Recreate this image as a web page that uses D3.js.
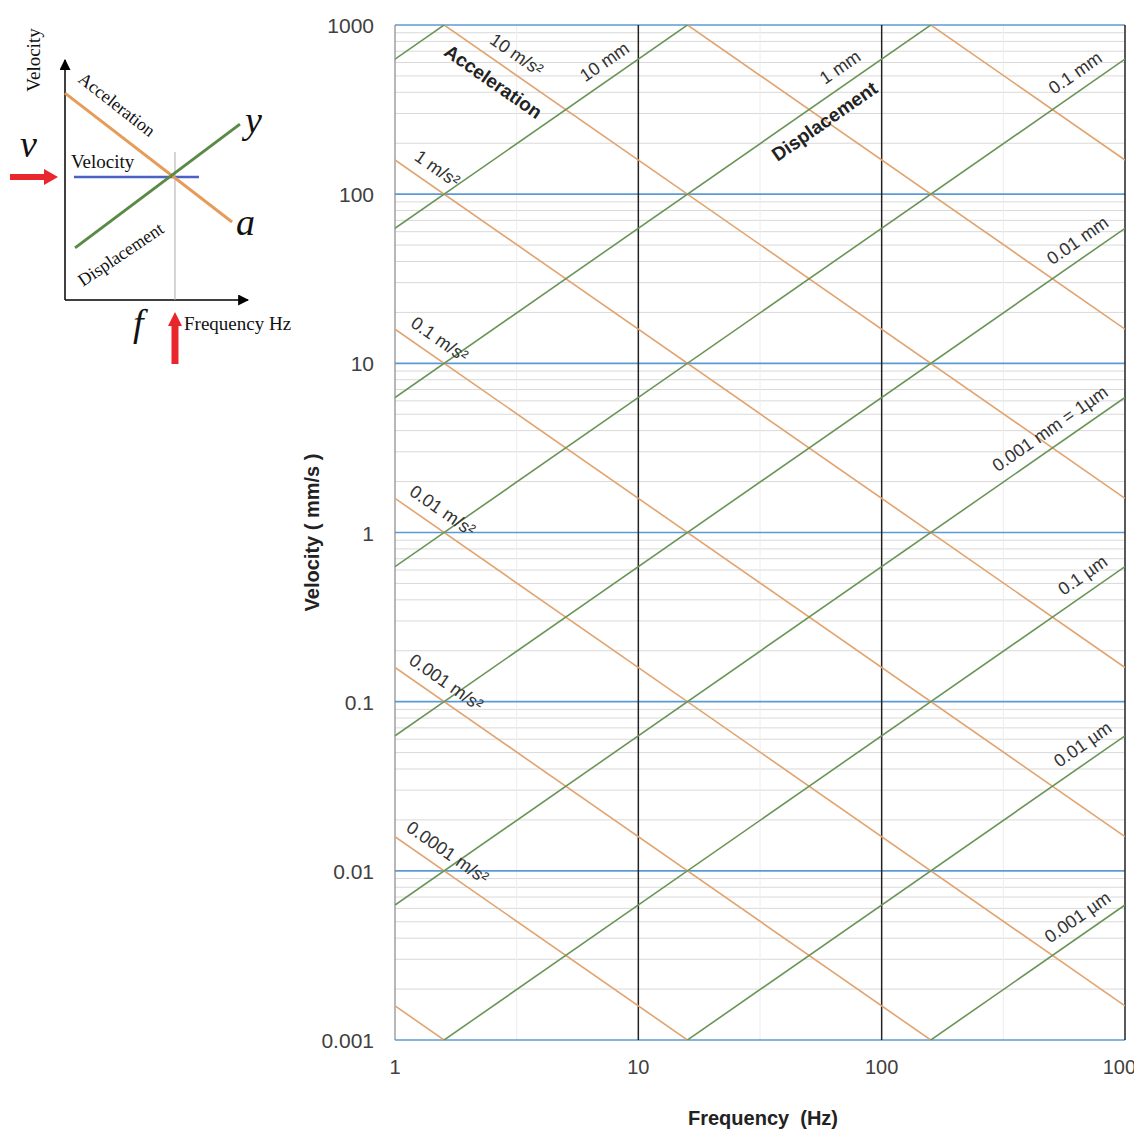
<!DOCTYPE html>
<html>
<head>
<meta charset="utf-8">
<script src="https://cdn.jsdelivr.net/npm/d3@7"></script>
<style>
  body { margin: 0; background: #fff; }
  svg { display: block; }
  .tick-label { font-family: "Liberation Sans", Arial, sans-serif; fill: #404040; }
  .axis-title { font-family: "Liberation Sans", Arial, sans-serif; font-size: 20px; font-weight: bold; fill: #222; }
  .line-label { font-family: "Liberation Sans", Arial, sans-serif; font-size: 18px; fill: #333; }
  .group-label { font-family: "Liberation Sans", Arial, sans-serif; font-size: 19px; font-weight: bold; fill: #222; }
  .inset-text { font-family: "Liberation Serif", "Times New Roman", serif; fill: #111; }
</style>
</head>
<body>
<div id="chart"></div>
<script>
// ---- data ----
const freqTicks = [1, 10, 100, 1000];
const velTicks = [0.001, 0.01, 0.1, 1, 10, 100, 1000];
const velTickLabels = ['0.001', '0.01', '0.1', '1', '10', '100', '1000'];
const accelLevels = [1e-5, 1e-4, 1e-3, 0.01, 0.1, 1, 10, 100, 1000];        // m/s2
const dispLevels = [1e-6, 1e-5, 1e-4, 1e-3, 0.01, 0.1, 1, 10, 100];          // mm

// labels: line level, text, frequency where the label sits
const accelLabels = [
  { level: 10, text: '10 m/s²', f: 2.88 },
  { level: 1, text: '1 m/s²', f: 1.36 },
  { level: 0.1, text: '0.1 m/s²', f: 1.39 },
  { level: 0.01, text: '0.01 m/s²', f: 1.43 },
  { level: 0.001, text: '0.001 m/s²', f: 1.48 },
  { level: 0.0001, text: '0.0001 m/s²', f: 1.50 }
];
const dispLabels = [
  { level: 10, text: '10 mm', f: 7.96 },
  { level: 1, text: '1 mm', f: 74 },
  { level: 0.1, text: '0.1 mm', f: 685 },
  { level: 0.01, text: '0.01 mm', f: 700 },
  { level: 0.001, text: '0.001 mm = 1µm', f: 540 },
  { level: 1e-4, text: '0.1 µm', f: 735 },
  { level: 1e-5, text: '0.01 µm', f: 735 },
  { level: 1e-6, text: '0.001 µm', f: 700 }
];
const groupLabels = [
  { kind: 'accel', level: 10, text: 'Acceleration', f: 2.80 },
  { kind: 'disp', level: 1, text: 'Displacement', f: 52.7 }
];

// velocity (mm/s) on each kind of line
const accelVel = (a, f) => a * 1000 / (2 * Math.PI * f);
const dispVel = (d, f) => 2 * Math.PI * f * d;

const W = 1134, H = 1131;
const svg = d3.select('#chart').append('svg').attr('width', W).attr('height', H);

const x = d3.scaleLog().domain([1, 1000]).range([395, 1125]);
const y = d3.scaleLog().domain([0.001, 1000]).range([1040, 25]);

svg.append('defs').append('clipPath').attr('id', 'plotClip')
  .append('rect')
  .attr('x', x(1)).attr('y', y(1000))
  .attr('width', x(1000) - x(1)).attr('height', y(0.001) - y(1000));

const grid = svg.append('g');

// minor horizontal lines
const minorV = [];
velTicks.slice(0, -1).forEach(d => { for (let k = 2; k <= 9; k++) minorV.push(d * k); });
grid.selectAll('.minor-h').data(minorV).enter().append('line')
  .attr('class', 'minor-h')
  .attr('x1', x(1)).attr('x2', x(1000))
  .attr('y1', d => y(d)).attr('y2', d => y(d))
  .attr('stroke', '#d9d9d9').attr('stroke-width', 1);

// faint vertical half-decade lines
const halfF = [1, 10, 100].map(d => d * Math.sqrt(10));
grid.selectAll('.half-v').data(halfF).enter().append('line')
  .attr('x1', d => x(d)).attr('x2', d => x(d))
  .attr('y1', y(1000)).attr('y2', y(0.001))
  .attr('stroke', '#ececec').attr('stroke-width', 1);

// major horizontal lines
grid.selectAll('.major-h').data(velTicks).enter().append('line')
  .attr('x1', x(1)).attr('x2', x(1000))
  .attr('y1', d => y(d)).attr('y2', d => y(d))
  .attr('stroke', '#5b9bd5').attr('stroke-width', 1.6);

// vertical decade lines
grid.selectAll('.major-v').data(freqTicks).enter().append('line')
  .attr('x1', d => x(d)).attr('x2', d => x(d))
  .attr('y1', y(1000)).attr('y2', y(0.001))
  .attr('stroke', d => d === 1 ? '#888' : '#222')
  .attr('stroke-width', d => d === 1 ? 1.2 : 1.5);

// acceleration and displacement lines
const plot = svg.append('g').attr('clip-path', 'url(#plotClip)');
const lineGen = d3.line().x(d => x(d[0])).y(d => y(d[1]));

plot.selectAll('.accel').data(accelLevels).enter().append('path')
  .attr('d', a => lineGen([[1, accelVel(a, 1)], [1000, accelVel(a, 1000)]]))
  .attr('fill', 'none').attr('stroke', '#e2a36e').attr('stroke-width', 1.6);

plot.selectAll('.disp').data(dispLevels).enter().append('path')
  .attr('d', dd => lineGen([[1, dispVel(dd, 1)], [1000, dispVel(dd, 1000)]]))
  .attr('fill', 'none').attr('stroke', '#6a9456').attr('stroke-width', 1.6);

// line slope angle in screen space
const accAngle = Math.atan2(y(0.1) - y(1), x(10) - x(1)) * 180 / Math.PI;
const dispAngle = -accAngle;

const labels = svg.append('g');
labels.selectAll('.acc-lab').data(accelLabels).enter().append('text')
  .attr('class', 'line-label')
  .attr('transform', d => `translate(${x(d.f)},${y(accelVel(d.level, d.f))}) rotate(${accAngle})`)
  .attr('text-anchor', 'middle').attr('y', -11)
  .text(d => d.text);

labels.selectAll('.disp-lab').data(dispLabels).enter().append('text')
  .attr('class', 'line-label')
  .attr('transform', d => `translate(${x(d.f)},${y(dispVel(d.level, d.f))}) rotate(${dispAngle})`)
  .attr('text-anchor', 'middle').attr('y', -11)
  .text(d => d.text);

labels.selectAll('.grp-lab').data(groupLabels).enter().append('text')
  .attr('class', 'group-label')
  .attr('transform', d => {
    const v = d.kind === 'accel' ? accelVel(d.level, d.f) : dispVel(d.level, d.f);
    const ang = d.kind === 'accel' ? accAngle : dispAngle;
    return `translate(${x(d.f)},${y(v)}) rotate(${ang})`;
  })
  .attr('text-anchor', 'middle').attr('y', 25)
  .text(d => d.text);

// tick labels
svg.selectAll('.ylab').data(velTicks).enter().append('text')
  .attr('class', 'tick-label')
  .style('font-size', '21px')
  .attr('x', 374).attr('y', d => y(d) + 8)
  .attr('text-anchor', 'end')
  .text((d, i) => velTickLabels[i]);

svg.selectAll('.xlab').data(freqTicks).enter().append('text')
  .attr('class', 'tick-label')
  .style('font-size', '20px')
  .attr('x', d => x(d)).attr('y', 1074)
  .attr('text-anchor', 'middle')
  .text(d => d);

svg.append('text').attr('class', 'axis-title')
  .attr('transform', `translate(319,${(y(1000) + y(0.001)) / 2}) rotate(-90)`)
  .attr('text-anchor', 'middle')
  .attr('xml:space', 'preserve')
  .text('Velocity ( mm/s )');

svg.append('text').attr('class', 'axis-title')
  .attr('x', 763).attr('y', 1125)
  .attr('text-anchor', 'middle')
  .attr('xml:space', 'preserve')
  .text('Frequency  (Hz)');

// ---- inset schematic ----
const ix = d3.scaleLinear().domain([0, 10]).range([65, 248]);
const iy = d3.scaleLinear().domain([0, 10]).range([300, 60]);
const inset = svg.append('g');

const defs = svg.select('defs');
defs.append('marker').attr('id', 'arrowBlack')
  .attr('viewBox', '0 0 10 10').attr('refX', 9).attr('refY', 5)
  .attr('markerWidth', 11).attr('markerHeight', 11).attr('markerUnits', 'userSpaceOnUse')
  .attr('orient', 'auto')
  .append('path').attr('d', 'M0,0 L10,5 L0,10 Z').attr('fill', '#000');

// axes
inset.append('line').attr('x1', ix(0)).attr('y1', iy(0)).attr('x2', ix(0)).attr('y2', iy(10))
  .attr('stroke', '#000').attr('stroke-width', 1.5).attr('marker-end', 'url(#arrowBlack)');
inset.append('line').attr('x1', ix(0)).attr('y1', iy(0)).attr('x2', ix(10)).attr('y2', iy(0))
  .attr('stroke', '#000').attr('stroke-width', 1.5).attr('marker-end', 'url(#arrowBlack)');

const insetLines = [
  { pts: [[6.01, 6.17], [6.01, 0]], color: '#aaa', w: 1 },
  { pts: [[0.49, 5.125], [7.32, 5.125]], color: '#4a62c4', w: 2.5 },
  { pts: [[0, 8.62], [9.13, 3.25]], color: '#e69c58', w: 3 },
  { pts: [[0.55, 2.17], [9.56, 7.33]], color: '#5a8a46', w: 3 }
];
const iLine = d3.line().x(d => ix(d[0])).y(d => iy(d[1]));
inset.selectAll('.iline').data(insetLines).enter().append('path')
  .attr('d', d => iLine(d.pts))
  .attr('fill', 'none').attr('stroke', d => d.color).attr('stroke-width', d => d.w);

// red arrows
const vy = iy(5.125), fx = ix(6.01);
inset.append('rect').attr('x', 10).attr('y', vy - 3).attr('width', 36).attr('height', 6).attr('fill', '#e8262b');
inset.append('path').attr('d', `M44,${vy - 8} L58,${vy} L44,${vy + 8} Z`).attr('fill', '#e8262b');
inset.append('rect').attr('x', fx - 3.5).attr('y', 324).attr('width', 7).attr('height', 40).attr('fill', '#e8262b');
inset.append('path').attr('d', `M${fx - 7},326 L${fx},312 L${fx + 7},326 Z`).attr('fill', '#e8262b');

// inset text
inset.append('text').attr('class', 'inset-text')
  .attr('transform', 'translate(40,60) rotate(-90)').attr('text-anchor', 'middle')
  .style('font-size', '19px').text('Velocity');
inset.append('text').attr('class', 'inset-text')
  .attr('transform', 'translate(77,81) rotate(38)')
  .style('font-size', '18px').text('Acceleration');
inset.append('text').attr('class', 'inset-text')
  .attr('x', 71).attr('y', 168).style('font-size', '19px').text('Velocity');
inset.append('text').attr('class', 'inset-text')
  .attr('transform', 'translate(83,287) rotate(-34)')
  .style('font-size', '18px').text('Displacement');
inset.append('text').attr('class', 'inset-text')
  .attr('x', 184).attr('y', 330).style('font-size', '19px').text('Frequency Hz');
[
  { t: 'y', x: 245, y: 133 },
  { t: 'a', x: 236, y: 235 },
  { t: 'v', x: 20, y: 157 },
  { t: 'f', x: 133, y: 336 }
].forEach(d => {
  inset.append('text').attr('class', 'inset-text')
    .attr('x', d.x).attr('y', d.y)
    .style('font-size', '38px').style('font-style', 'italic')
    .text(d.t);
});
</script>
</body>
</html>
